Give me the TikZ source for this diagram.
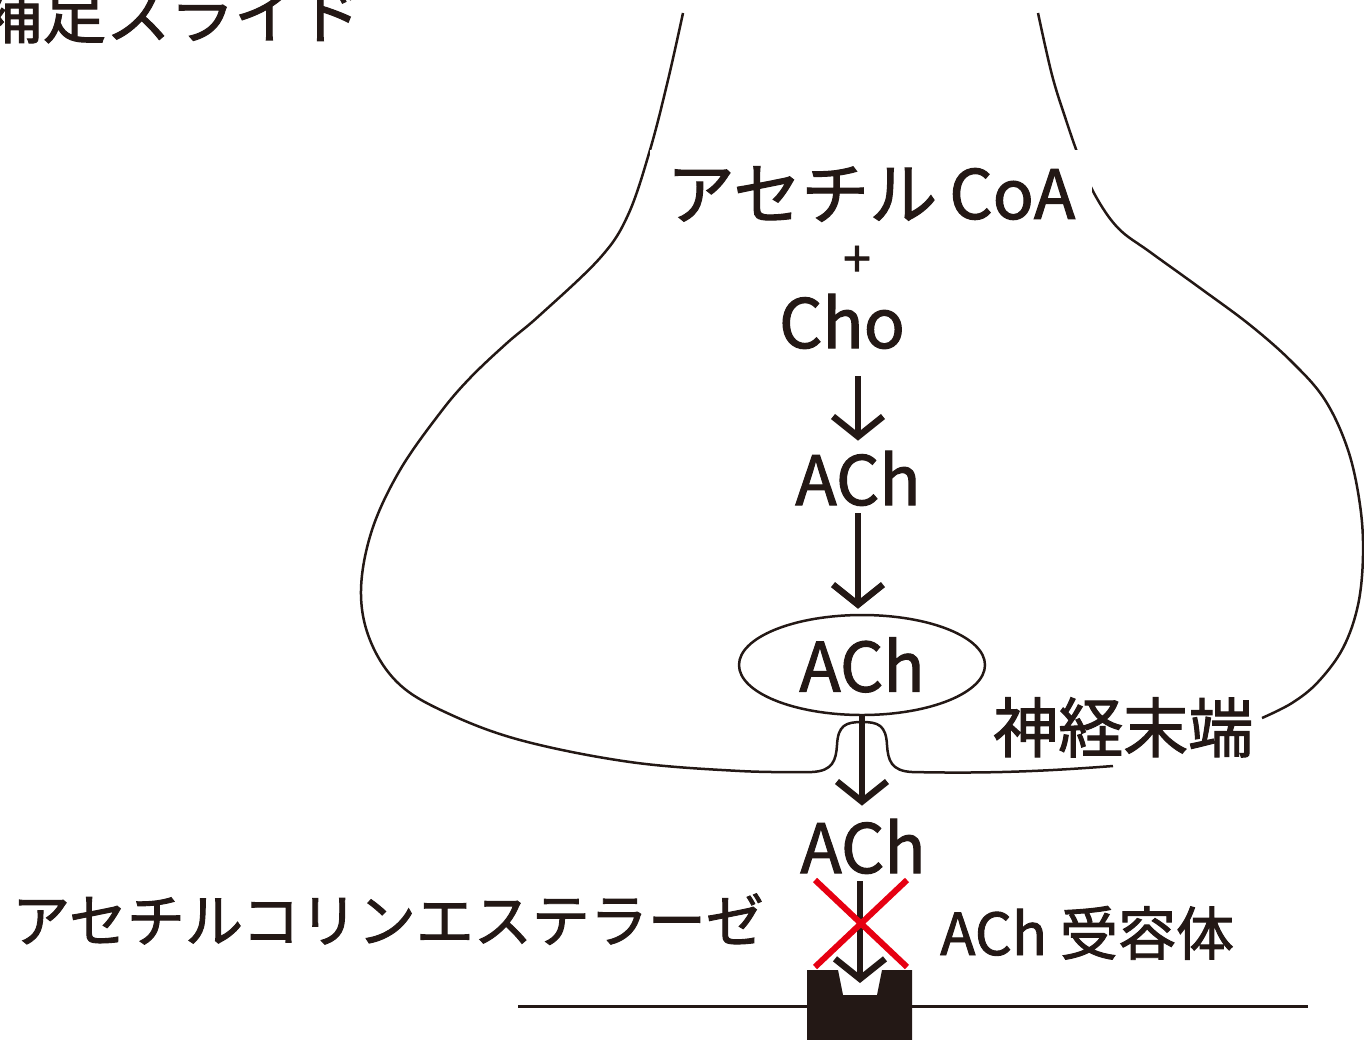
\documentclass[tikz,border=0pt]{standalone}
\usepackage{fontspec}
\setmainfont{Noto Sans CJK JP}[FakeBold=1.6]
\usetikzlibrary{arrows.meta,shapes.geometric}

\definecolor{ink}{RGB}{35,24,21}
\definecolor{xred}{RGB}{230,0,18}

\tikzset{
  chem/.style={inner sep=0pt, text=ink, font=\fontsize{68}{70}\selectfont},
  tag/.style={inner sep=0pt, text=ink, font=\fontsize{58}{60}\selectfont},
  membrane/.style={draw=ink, line width=2.5pt},
  flow/.style={draw=ink, line width=6.5pt, -{Straight Barb[length=20pt,width=50pt]}},
  cross/.style={draw=xred, line width=6pt}
}

\begin{document}
\begin{tikzpicture}[x=1pt, y=-1pt]
    \useasboundingbox (0,0) rectangle (1364,1039);
    \clip (0,0) rectangle (1364,1039);
    % nerve ending, left side down to the release pore
    \draw[membrane] plot[smooth, tension=0.6] coordinates {(683,13) (668,80) (650,150) (628,215) (600,258) (540,315) (507,343) (470,378) (440,413) (400,470) (372,530) (361,590) (370,640) (398,683) (445,712) (520,740) (630,762) (740,771) (812,772)}
      .. controls (833,771) and (836,760) .. (837,745)
      .. controls (838,725) and (846,722) .. (862,722)
      .. controls (878,722) and (886,725) .. (887,745)
      .. controls (888,760) and (891,771) .. (912,772)
      .. controls (1000,774) and (1060,770) .. (1113,766);
    % right side
    \draw[membrane] plot[smooth, tension=0.6] coordinates {(1038,13) (1052,75) (1066,120) (1080,160) (1095,195) (1118,228) (1150,252) (1200,288) (1250,325) (1292,362) (1325,400) (1348,450) (1360,505) (1363,555) (1358,605) (1343,648) (1318,682) (1292,703) (1262,718)};

    \node[tag, font=\fontsize{64}{64}\selectfont, anchor=base west] (heading) at (-22,38) {補足スライド};

    \node[chem, fill=white, minimum width=442pt, minimum height=89pt] (acoa) at (871,194) {アセチル\hspace{12pt}CoA};
    \node[chem, font=\fontsize{50}{50}\selectfont, anchor=base] (plus) at (857,277) {+};
    \node[chem, anchor=base] (cho) at (842,348) {Cho};
    \node[chem, anchor=base] (ach1) at (858,505) {ACh};
    \node[chem, draw=ink, line width=2.5pt, ellipse, minimum width=246pt, minimum height=100pt] (vesicle) at (862,665) {ACh};
    \node[chem, anchor=base] (ach3) at (863,873) {ACh};

    \node[tag, font=\fontsize{65}{65}\selectfont, fill=white, anchor=base west] (ending) at (993,752) {神経末端};
    \node[tag, anchor=base west] (enzyme) at (12,942) {アセチルコリンエステラーゼ};
    \node[tag, anchor=base west] (receptor) at (940,955) {ACh 受容体};

    % postsynaptic membrane and receptor
    \draw[ink, line width=3pt] (518,1006) -- (1308,1006);
    \fill[ink] (807,1045) -- (807,970) -- (838,970) -- (843,995) -- (877,995) -- (882,970) -- (912,970) -- (912,1045) -- cycle;
    \coordinate (site) at (860,983);

    \draw[flow, shorten <=27pt, shorten >=10pt] (ach1.north |- cho.south) -- (ach1.north);
    \draw[flow, shorten <=7pt, shorten >=5pt] (ach1.south) -- (ach1.south |- vesicle.north);
    \draw[flow, shorten >=13pt] (vesicle.south) -- (vesicle.south |- ach3.north);
    \draw[flow, shorten <=7pt] (site |- ach3.south) -- (site);

    % esterase blocked
    \draw[cross] (815,880) -- (907,967) (907,880) -- (815,967);
  \end{tikzpicture}
\end{document}
